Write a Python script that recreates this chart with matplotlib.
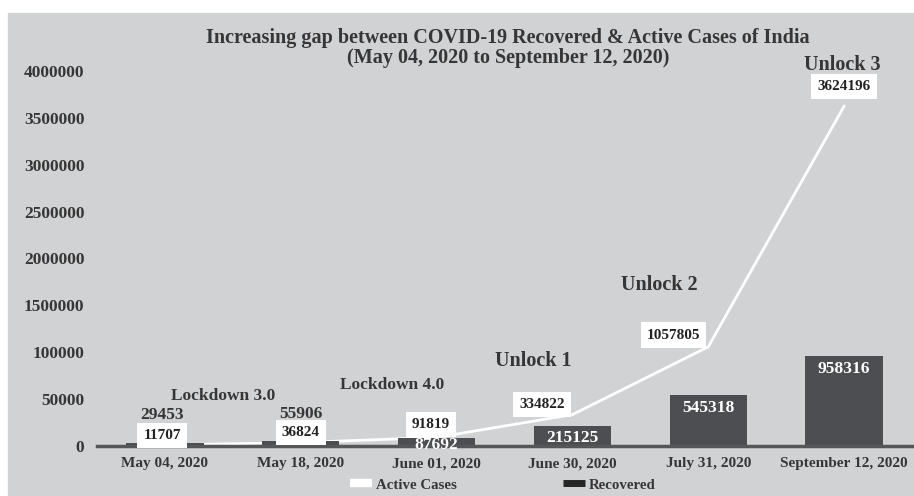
import matplotlib
matplotlib.use('Agg')
import matplotlib.pyplot as plt
from matplotlib.patches import Rectangle
from matplotlib.lines import Line2D

# data
dates = ['May 04, 2020', 'May 18, 2020', 'June 01, 2020',
         'June 30, 2020', 'July 31, 2020', 'September 12, 2020']
active = [11707, 36824, 91819, 334822, 1057805, 3624196]      # white line
recovered = [29453, 55906, 87692, 215125, 545318, 958316]     # dark bars
phases = ['Lockdown 3.0', 'Lockdown 4.0', 'Unlock 1', 'Unlock 2', 'Unlock 3']
yticks = [0, 500000, 1000000, 1500000, 2000000, 2500000, 3000000, 3500000, 4000000]
ytick_labels = ['0', '50000', '100000', '1500000', '2000000',
                '2500000', '3000000', '3500000', '4000000']

# label placement (points) and phase text anchors (data coords)
line_offsets = [(-2, 7), (0, 7), (-4, 9.5), (-22, 7.5), (-25, 8.5), (0, 14)]
bar_offsets = [(-2, 20), (0, 19), (0, -5), (0, -9), (0, -9.5), (0, -9)]
phase_pos = [(0.43, 533000), (1.67, 650000), (2.71, 907000),
             (3.64, 1717000), (4.985, 4060000)]
phase_size = [12.5, 12.5, 14.5, 14.5, 14.5]

SERIF = 'Liberation Serif'
BG = '#d1d2d4'
BAR = '#4d4e51'
TXT = '#363636'

W, H = 914, 496
fig = plt.figure(figsize=(W / 100, H / 100), dpi=100, facecolor='white')
fig.patches.append(Rectangle((8 / W, 0), 1 - 8 / W, 1 - 13 / H,
                             transform=fig.transFigure, color=BG, zorder=-10))

ax = fig.add_axes([97 / W, (H - 446) / H, (912 - 97) / W, (446 - 71) / H])
ax.set_facecolor('none')

x = list(range(len(dates)))
ax.plot(x, active, color='white', lw=2, zorder=1)
bars = ax.bar(x, recovered, width=0.57, color=BAR, zorder=2)

ax.set_xlim(-0.5, len(dates) - 0.5)
ax.set_ylim(0, 4000000)
ax.set_xticks(x)
ax.set_xticklabels(dates)
ax.set_yticks(yticks)
ax.set_yticklabels(ytick_labels)
ax.tick_params(axis='x', length=0, pad=8, labelsize=11, labelcolor=TXT)
ax.tick_params(axis='y', length=0, pad=9, labelsize=12.5, labelcolor=TXT)
for lab in ax.get_xticklabels() + ax.get_yticklabels():
    lab.set_family(SERIF)
    lab.set_fontweight('bold')

for s in ['top', 'right', 'left']:
    ax.spines[s].set_visible(False)
ax.spines['bottom'].set_color('#555658')
ax.spines['bottom'].set_linewidth(2.5)

# bar value labels
for i, v in enumerate(recovered):
    inside = bar_offsets[i][1] < 0
    ax.annotate(str(v), (x[i], v), xytext=bar_offsets[i], textcoords='offset points',
                ha='center', va='center', family=SERIF, fontweight='bold',
                fontsize=12.5, color='white' if inside else TXT, zorder=3)

# line value labels in white boxes
for i, v in enumerate(active):
    ax.annotate(str(v), (x[i], v), xytext=line_offsets[i], textcoords='offset points',
                ha='center', va='center', family=SERIF, fontweight='bold',
                fontsize=11, color='#222222', zorder=5, annotation_clip=False,
                bbox=dict(boxstyle='square,pad=0.4', fc='white', ec='none'))

# phase names
for name, (px, py), fs in zip(phases, phase_pos, phase_size):
    ax.text(px, py, name, ha='center', va='center', family=SERIF,
            fontweight='bold', fontsize=fs, color=TXT, clip_on=False)

fig.text(508 / W, 1 - 48 / H,
         'Increasing gap between COVID-19 Recovered & Active Cases of India\n'
         '(May 04, 2020 to September 12, 2020)',
         ha='center', va='center', family=SERIF, fontweight='bold',
         fontsize=14.5, color=TXT, linespacing=1.05)

handles = [Line2D([], [], color='white', lw=6, solid_capstyle='butt'),
           Line2D([], [], color='#262626', lw=5, solid_capstyle='butt')]
leg = fig.legend(handles, ['Active Cases', 'Recovered'], loc='center',
                 bbox_to_anchor=(503 / W, 1 - 485 / H), ncol=2, frameon=False,
                 columnspacing=7.1, handlelength=1.5, handletextpad=0.27,
                 prop={'family': SERIF, 'weight': 'bold', 'size': 10.7})
for t in leg.get_texts():
    t.set_color(TXT)

fig.savefig('out.png', dpi=100, facecolor=fig.get_facecolor())
